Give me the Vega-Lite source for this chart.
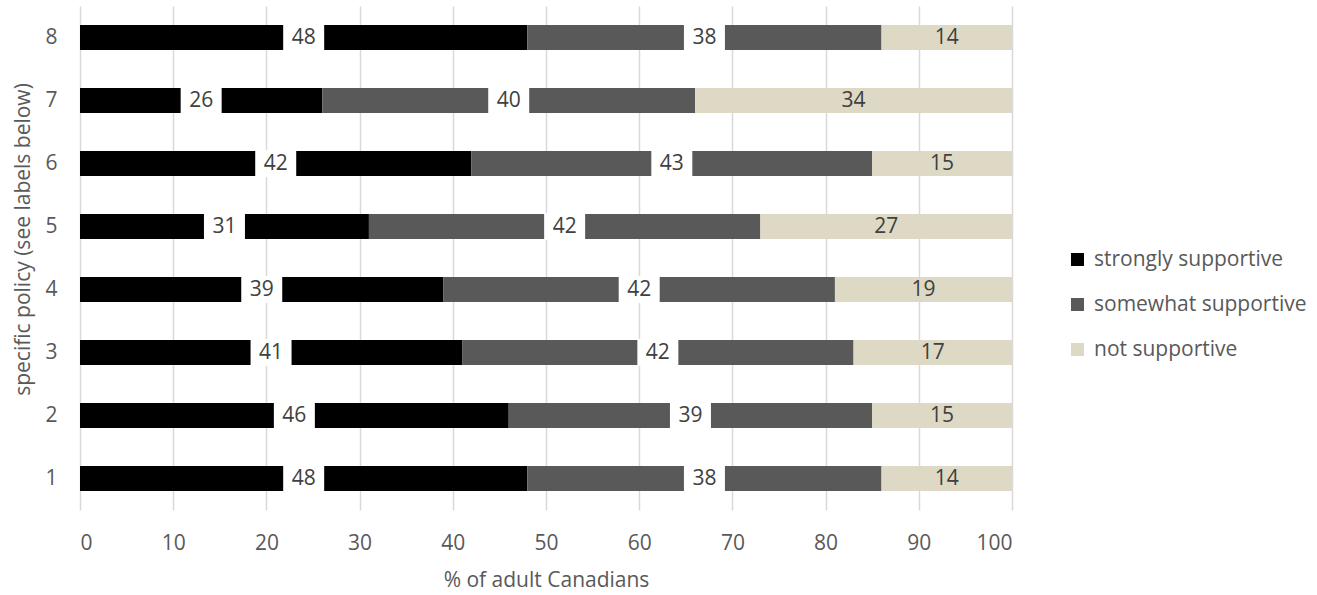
{
  "$schema": "https://vega.github.io/schema/vega-lite/v6.json",
  "width": 932,
  "height": 504,
  "autosize": {"type": "none"},
  "padding": {"left": 80, "top": 6, "right": 305, "bottom": 85},
  "background": "white",
  "config": {
    "font": "Open Sans",
    "view": {"stroke": null},
    "axis": {"labelFont": "Open Sans", "titleFont": "Open Sans", "labelFontSize": 21, "titleFontSize": 21, "titleFontWeight": "normal", "labelColor": "#595959", "titleColor": "#595959"},
    "legend": {"labelFont": "Open Sans", "labelFontSize": 21, "labelColor": "#595959", "labelLimit": 400}
  },
  "data": {
    "values": [
      {"policy": "1", "category": "strongly supportive", "order": 1, "pct": 48},
      {"policy": "1", "category": "somewhat supportive", "order": 2, "pct": 38},
      {"policy": "1", "category": "not supportive", "order": 3, "pct": 14},
      {"policy": "2", "category": "strongly supportive", "order": 1, "pct": 46},
      {"policy": "2", "category": "somewhat supportive", "order": 2, "pct": 39},
      {"policy": "2", "category": "not supportive", "order": 3, "pct": 15},
      {"policy": "3", "category": "strongly supportive", "order": 1, "pct": 41},
      {"policy": "3", "category": "somewhat supportive", "order": 2, "pct": 42},
      {"policy": "3", "category": "not supportive", "order": 3, "pct": 17},
      {"policy": "4", "category": "strongly supportive", "order": 1, "pct": 39},
      {"policy": "4", "category": "somewhat supportive", "order": 2, "pct": 42},
      {"policy": "4", "category": "not supportive", "order": 3, "pct": 19},
      {"policy": "5", "category": "strongly supportive", "order": 1, "pct": 31},
      {"policy": "5", "category": "somewhat supportive", "order": 2, "pct": 42},
      {"policy": "5", "category": "not supportive", "order": 3, "pct": 27},
      {"policy": "6", "category": "strongly supportive", "order": 1, "pct": 42},
      {"policy": "6", "category": "somewhat supportive", "order": 2, "pct": 43},
      {"policy": "6", "category": "not supportive", "order": 3, "pct": 15},
      {"policy": "7", "category": "strongly supportive", "order": 1, "pct": 26},
      {"policy": "7", "category": "somewhat supportive", "order": 2, "pct": 40},
      {"policy": "7", "category": "not supportive", "order": 3, "pct": 34},
      {"policy": "8", "category": "strongly supportive", "order": 1, "pct": 48},
      {"policy": "8", "category": "somewhat supportive", "order": 2, "pct": 38},
      {"policy": "8", "category": "not supportive", "order": 3, "pct": 14}
    ]
  },
  "transform": [
    {"stack": "pct", "groupby": ["policy"], "sort": [{"field": "order", "order": "ascending"}], "as": ["x0", "x1"]}
  ],
  "encoding": {
    "y": {
      "field": "policy", "type": "nominal", "sort": "descending",
      "scale": {"paddingInner": 0, "paddingOuter": 0},
      "axis": {"title": "specific policy (see labels below)", "domain": false, "ticks": false, "grid": false, "labelPadding": 23, "titlePadding": 11, "titleY": 233, "labelAngle": 0}
    }
  },
  "layer": [
    {
      "mark": {"type": "bar", "size": 25},
      "encoding": {
        "x": {"field": "x0", "type": "quantitative", "scale": {"domain": [0, 100], "nice": false},
          "axis": {"title": "% of adult Canadians", "values": [0, 10, 20, 30, 40, 50, 60, 70, 80, 90, 100], "domain": false, "ticks": false, "grid": true, "gridColor": "#d9d9d9", "gridWidth": 1.5, "labelPadding": 22, "titlePadding": 16}},
        "x2": {"field": "x1"},
        "color": {
          "field": "category", "type": "nominal",
          "scale": {"domain": ["strongly supportive", "somewhat supportive", "not supportive"], "range": ["#000000", "#595959", "#ddd9c4"]},
          "legend": {"title": null, "orient": "none", "legendX": 987, "legendY": 243, "symbolType": "square", "symbolSize": 169, "symbolStrokeWidth": 0, "rowPadding": 23, "labelOffset": 6}
        }
      }
    },
    {
      "transform": [
        {"filter": "datum.category != 'not supportive'"},
        {"fold": ["x0", "x1"], "as": ["edge", "pos"]}
      ],
      "mark": {"type": "tick", "color": "white", "thickness": 41, "size": 27, "opacity": 1},
      "encoding": {
        "x": {"aggregate": "mean", "field": "pos", "type": "quantitative"},
        "detail": {"field": "category"}
      }
    },
    {
      "transform": [
        {"fold": ["x0", "x1"], "as": ["edge", "pos"]}
      ],
      "mark": {"type": "text", "fontSize": 21, "font": "Open Sans", "color": "#404040", "align": "center", "baseline": "middle"},
      "encoding": {
        "x": {"aggregate": "mean", "field": "pos", "type": "quantitative"},
        "detail": {"field": "category"},
        "text": {"aggregate": "max", "field": "pct", "type": "quantitative"}
      }
    }
  ]
}
